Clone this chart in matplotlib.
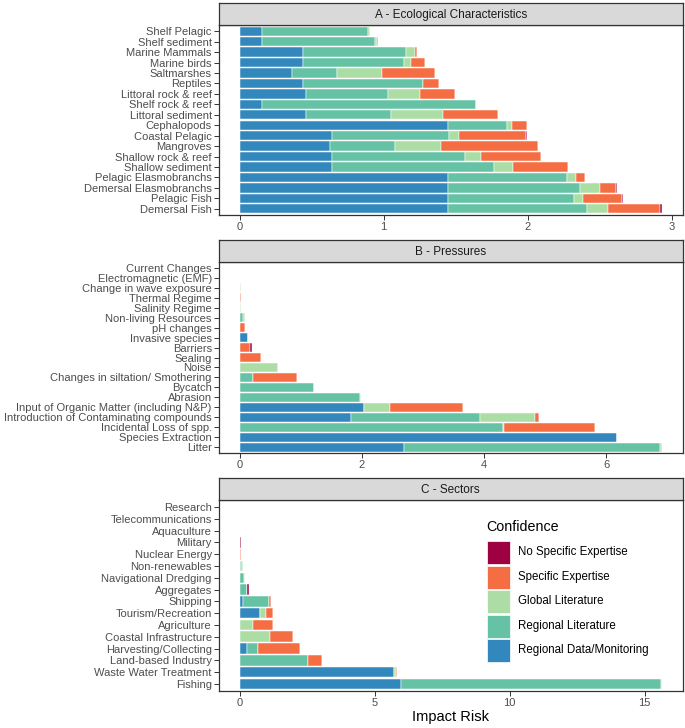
import matplotlib
matplotlib.use("Agg")
import matplotlib.pyplot as plt
from matplotlib.patches import Rectangle
import numpy as np

plt.rcParams['font.family'] = ['Liberation Sans', 'DejaVu Sans']

# ---------------- data ----------------
levels = ["Regional Data/Monitoring", "Regional Literature", "Global Literature",
          "Specific Expertise", "No Specific Expertise"]
colors = ["#3288BD", "#66C2A5", "#ABDDA4", "#F46D43", "#9E0142"]

cats_A = ["Shelf Pelagic", "Shelf sediment", "Marine Mammals", "Marine birds", "Saltmarshes",
          "Reptiles", "Littoral rock & reef", "Shelf rock & reef", "Littoral sediment",
          "Cephalopods", "Coastal Pelagic", "Mangroves", "Shallow rock & reef",
          "Shallow sediment", "Pelagic Elasmobranchs", "Demersal Elasmobranchs",
          "Pelagic Fish", "Demersal Fish"]
A_data = [0.157, 0.157, 0.441, 0.441, 0.362, 0.441, 0.462, 0.157, 0.457, 1.445, 0.644, 0.628,
          0.644, 0.644, 1.445, 1.445, 1.445, 1.445]
A_reglit = [0.734, 0.785, 0.711, 0.699, 0.312, 0.833, 0.567, 1.482, 0.591, 0.415, 0.808, 0.452,
            0.918, 1.119, 0.828, 0.921, 0.879, 0.971]
A_glob = [0.011, 0.013, 0.064, 0.048, 0.314, 0.0, 0.222, 0.0, 0.367, 0.028, 0.069, 0.316,
          0.111, 0.134, 0.065, 0.136, 0.062, 0.141]
A_spec = [0.0, 0.007, 0.012, 0.102, 0.367, 0.113, 0.244, 0.004, 0.378, 0.108, 0.471, 0.676,
          0.418, 0.381, 0.058, 0.113, 0.273, 0.365]
A_nospec = [0.005, 0.0, 0.003, 0.0, 0.0, 0.0, 0.0, 0.0, 0.0, 0.0, 0.007, 0.0, 0.0, 0.004,
            0.004, 0.004, 0.004, 0.009]

cats_B = ["Current Changes", "Electromagnetic (EMF)", "Change in wave exposure",
          "Thermal Regime", "Salinity Regime", "Non-living Resources", "pH changes",
          "Invasive species", "Barriers", "Sealing", "Noise",
          "Changes in siltation/ Smothering", "Bycatch", "Abrasion",
          "Input of Organic Matter (including N&P)",
          "Introduction of Contaminating compounds", "Incidental Loss of spp.",
          "Species Extraction", "Litter"]
B_data = [0, 0, 0, 0, 0, 0, 0, 0.13, 0, 0, 0, 0, 0, 0, 2.03, 1.824, 0, 6.168, 2.684]
B_reglit = [0, 0, 0, 0, 0, 0.05, 0, 0, 0, 0, 0, 0.223, 1.209, 1.96, 0, 2.106, 4.311, 0.011, 4.197]
B_glob = [0, 0, 0.02, 0, 0.02, 0.04, 0, 0.01, 0, 0, 0.621, 0, 0, 0.016, 0.431, 0.899, 0.011, 0, 0.022]
B_spec = [0, 0, 0, 0.02, 0, 0, 0.09, 0, 0.16, 0.345, 0, 0.708, 0, 0, 1.192, 0.065, 1.497, 0, 0]
B_nospec = [0, 0, 0, 0, 0, 0, 0, 0, 0.04, 0, 0, 0, 0, 0, 0, 0, 0, 0, 0]

cats_C = ["Research", "Telecommunications", "Aquaculture", "Military", "Nuclear Energy",
          "Non-renewables", "Navigational Dredging", "Aggregates", "Shipping",
          "Tourism/Recreation", "Agriculture", "Coastal Infrastructure",
          "Harvesting/Collecting", "Land-based Industry", "Waste Water Treatment", "Fishing"]
C_data = [0, 0, 0, 0, 0, 0, 0, 0, 0.11, 0.74, 0, 0, 0.259, 0, 5.73, 5.98]
C_reglit = [0, 0, 0, 0, 0, 0.06, 0.17, 0.27, 0.99, 0, 0, 0, 0.431, 2.515, 0, 9.61]
C_glob = [0, 0, 0, 0, 0, 0.05, 0.03, 0, 0, 0.234, 0.506, 1.134, 0, 0, 0.04, 0.04]
C_spec = [0, 0, 0, 0, 0.04, 0, 0, 0.01, 0.07, 0.247, 0.715, 0.851, 1.554, 0.545, 0.05, 0]
C_nospec = [0, 0, 0, 0.03, 0, 0, 0, 0.06, 0, 0, 0, 0, 0, 0, 0, 0]

titles = ["A - Ecological Characteristics", "B - Pressures", "C - Sectors"]
xticks = [[0, 1, 2, 3], [0, 2, 4, 6], [0, 5, 10, 15]]

panels = [
    (cats_A, [A_data, A_reglit, A_glob, A_spec, A_nospec]),
    (cats_B, [B_data, B_reglit, B_glob, B_spec, B_nospec]),
    (cats_C, [C_data, C_reglit, C_glob, C_spec, C_nospec]),
]

# ---------------- layout ----------------
W, H = 685, 728
fig = plt.figure(figsize=(W / 100, H / 100), dpi=100)

def fbox(x0, y0, x1, y1):
    return [x0 / W, 1 - y1 / H, (x1 - x0) / W, (y1 - y0) / H]

px_left, px_right = 218.7, 682.7
strip_y = [(3, 25), (240, 262), (478, 500)]
panel_y = [(25, 215), (262, 453), (500, 691)]

tick_fs = 8.05
grey30 = "#4D4D4D"
grey20 = "#333333"

for i, (cats, series) in enumerate(panels):
    n = len(cats)
    ypos = np.arange(n)[::-1]
    ax = fig.add_axes(fbox(px_left, panel_y[i][0], px_right, panel_y[i][1]))
    left = np.zeros(n)
    for vals, col, lab in zip(series, colors, levels):
        v = np.array(vals, dtype=float)
        ax.barh(ypos, v, left=left, height=0.9, color=col, edgecolor="white",
                linewidth=0.35, label=lab)
        left = left + v
    mx = left.max()
    ax.set_xlim(-0.05 * mx, 1.05 * mx)
    ax.set_ylim(-0.6, n - 0.4)
    ax.set_yticks(ypos)
    ax.set_yticklabels(cats)
    ax.set_xticks(xticks[i])
    ax.set_xticklabels([str(t) for t in xticks[i]])
    ax.tick_params(axis="both", labelsize=tick_fs, labelcolor=grey30, color=grey20,
                   length=3.5, width=0.7, pad=1.5)
    for sp in ax.spines.values():
        sp.set_color(grey20)
        sp.set_linewidth(0.9)
    # strip
    sax = fig.add_axes(fbox(px_left, strip_y[i][0], px_right, strip_y[i][1]))
    sax.set_facecolor("#D9D9D9")
    sax.set_xticks([])
    sax.set_yticks([])
    for sp in sax.spines.values():
        sp.set_color(grey20)
        sp.set_linewidth(0.9)
    sax.text(0.5, 0.47, titles[i], ha="center", va="center", fontsize=8.5,
             color="#1A1A1A", transform=sax.transAxes)

# x axis title
fig.text((px_left + px_right) / 2 / W, 1 - 717 / H, "Impact Risk", ha="center",
         va="center", fontsize=10.5, color="black")

# legend (manual)
fig.text(486.5 / W, 1 - 527 / H, "Confidence", ha="left", va="center",
         fontsize=10.3, color="black")
key_order = [4, 3, 2, 1, 0]
key_x0, key_w, key_h, key_step, key_top = 487.3, 22.7, 23.0, 24.5, 541.0
for j, k in enumerate(key_order):
    y0 = key_top + j * key_step
    rect = Rectangle((key_x0 / W, 1 - (y0 + key_h) / H), key_w / W, key_h / H,
                     transform=fig.transFigure, facecolor=colors[k], edgecolor="white",
                     linewidth=0.5)
    fig.add_artist(rect)
    fig.text(518 / W, 1 - (y0 + key_h / 2) / H, levels[k], ha="left", va="center",
             fontsize=8.3, color="black")

fig.savefig("out.png", dpi=100)
